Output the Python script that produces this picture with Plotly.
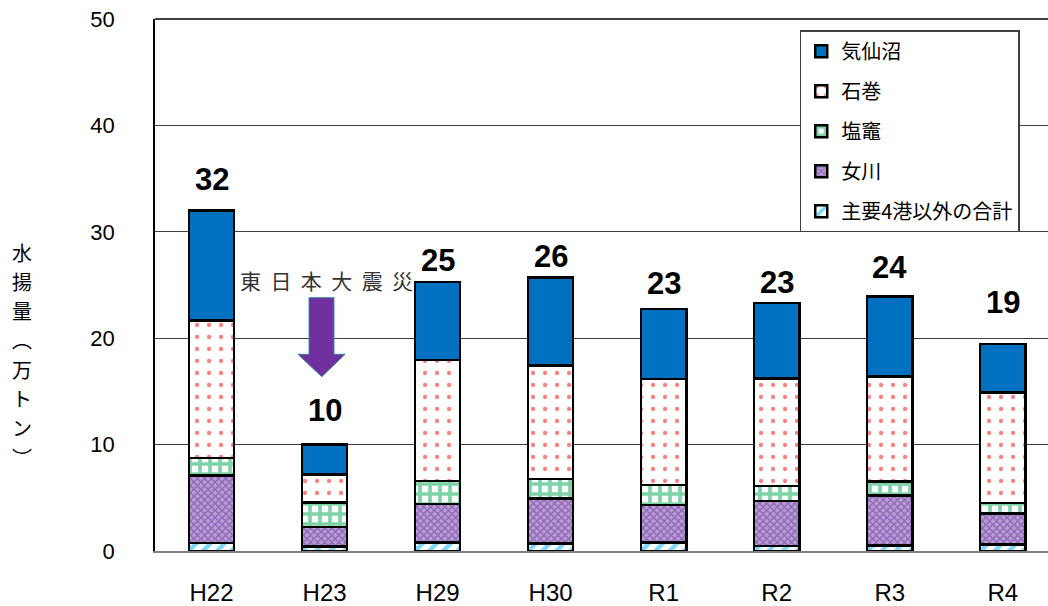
import plotly.graph_objects as go

years = ["H22", "H23", "H29", "H30", "R1", "R2", "R3", "R4"]

# 水揚量（万トン）by port, bottom of stack first
others     = [0.75, 0.40, 0.80, 0.70, 0.78, 0.47, 0.53, 0.63]
onagawa    = [6.33, 1.85, 3.60, 4.25, 3.55, 4.23, 4.67, 2.91]
shiogama   = [1.67, 2.30, 2.20, 1.80, 1.85, 1.40, 1.35, 0.96]
ishinomaki = [12.91, 2.65, 11.35, 10.70, 10.00, 10.10, 9.85, 10.40]
kesennuma  = [10.34, 2.80, 7.35, 8.25, 6.58, 7.10, 7.50, 4.55]

total_labels = ["32", "10", "25", "26", "23", "23", "24", "19"]
label_offsets = [2.9, 3.25, 2.05, 2.0, 2.4, 1.9, 2.7, 3.9]

series = [
    ("主要4港以外の合計", others, dict(shape="/", fgcolor="#00B0F0", bgcolor="white", size=10, solidity=0.45), 5),
    ("女川", onagawa, dict(shape="x", fgcolor="#7030A0", bgcolor="#B8A0D4", size=5, solidity=0.5), 4),
    ("塩竈", shiogama, dict(shape="+", fgcolor="#00A651", bgcolor="white", size=10, solidity=0.6), 3),
    ("石巻", ishinomaki, dict(shape=".", fgcolor="#FF0000", bgcolor="white", size=12, solidity=0.1), 2),
    ("気仙沼", kesennuma, None, 1),
]

fig = go.Figure()
for name, vals, pat, rank in series:
    marker = dict(color="#0070C0" if pat is None else "white",
                  line=dict(color="black", width=2.5))
    if pat is not None:
        marker["pattern"] = pat
    fig.add_trace(go.Bar(x=years, y=vals, name=name, marker=marker,
                         legendgroup=name, legendrank=rank, width=0.4))

totals = [sum(v) for v in zip(others, onagawa, shiogama, ishinomaki, kesennuma)]
for yr, t, lab, off in zip(years, totals, total_labels, label_offsets):
    fig.add_annotation(x=yr, y=t + off, text=f"<b>{lab}</b>", showarrow=False,
                       xref="x", yref="y", xanchor="center", yanchor="middle",
                       font=dict(family="Liberation Sans Narrow, Liberation Sans, Arial", size=31, color="black"))

# y-axis title (vertical, upright characters, one per line)
ytitle = "水揚量︵万トン︶"
for i, ch in enumerate(ytitle):
    fig.add_annotation(x=-0.149, y=0.5, xref="paper", yref="paper",
                       yshift=(551 - 252 - 29.3 * i) - 0.5 * 532,
                       xanchor="center", yanchor="middle",
                       text=ch, showarrow=False,
                       font=dict(family="Noto Sans CJK JP", size=20, color="black"))

# 東日本大震災 label and arrow
sep = " \u00a0"
fig.add_annotation(x=0.1915, y=0.509, xref="paper", yref="paper",
                   xanchor="center", yanchor="middle",
                   text=sep.join("東日本大震災"), showarrow=False,
                   font=dict(family="Noto Sans CJK JP", size=21, color="#333333"))
fig.add_shape(type="path", xref="paper", yref="paper",
              path="M 0.1725 0.4761 L 0.2004 0.4761 L 0.2004 0.3697 L 0.2128 0.3697 "
                   "L 0.1867 0.3276 L 0.1601 0.3697 L 0.1725 0.3697 Z",
              fillcolor="#7030A0", line=dict(color="#31859C", width=1))

# top frame line
fig.add_shape(type="line", xref="paper", yref="paper", x0=0, x1=1, y0=1, y1=1,
              line=dict(color="black", width=1.5))

fig.update_layout(
    width=1048, height=606,
    margin=dict(l=155, r=0, t=19, b=55),
    barmode="stack",
    paper_bgcolor="white", plot_bgcolor="white",
    font=dict(family="Noto Sans CJK JP", color="black"),
    legend=dict(x=0.722, y=0.979, xanchor="left", yanchor="top",
                bgcolor="white", bordercolor="#404040", borderwidth=1.5,
                font=dict(family="Noto Sans CJK JP", size=20, color="black"),
                traceorder="grouped", tracegroupgap=11),
    xaxis=dict(type="category", range=[-0.5, 7.4], showline=True,
               linecolor="#808080", linewidth=2, ticks="", showgrid=False,
               tickfont=dict(family="Liberation Sans, Arial", size=24, color="black"),
               ticklabelstandoff=19),
    yaxis=dict(range=[0, 50], dtick=10, showgrid=True, gridcolor="#404040", gridwidth=1,
               showline=True, linecolor="black", linewidth=1.5, zeroline=False, ticks="",
               tickfont=dict(family="Liberation Sans, Arial", size=22, color="black"),
               ticklabelstandoff=34),
)

fig.write_html("out.html")
